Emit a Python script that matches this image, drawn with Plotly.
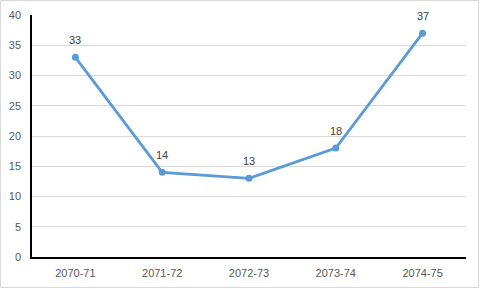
import plotly.graph_objects as go

categories = ["2070-71", "2071-72", "2072-73", "2073-74", "2074-75"]
values = [33, 14, 13, 18, 37]
y_ticks = [0, 5, 10, 15, 20, 25, 30, 35, 40]

W, H = 480, 289
ml, mr, mt, mb = 32, 14, 15, 32
pw, ph = W - ml - mr, H - mt - mb

fig = go.Figure()
fig.add_trace(go.Scatter(
    x=categories, y=values, mode="lines+markers",
    line=dict(color="#5B9BD5", width=2.75),
    marker=dict(color="#5B9BD5", size=7),
    cliponaxis=False, hoverinfo="skip",
))

annotations = [
    dict(x=c, y=v, text=str(v), showarrow=False, yshift=17, xref="x", yref="y",
         font=dict(family="Liberation Sans, Arial", size=11, color="#404040"))
    for c, v in zip(categories, values)
]

fig.update_layout(
    width=W, height=H,
    margin=dict(l=ml, r=mr, t=mt, b=mb, autoexpand=False),
    paper_bgcolor="white", plot_bgcolor="white",
    showlegend=False,
    font=dict(family="Liberation Sans, Arial", size=11, color="#595959"),
    annotations=annotations,
    xaxis=dict(
        type="category", range=[-0.5, 4.5], automargin=False,
        showline=True, linecolor="black", linewidth=1.5,
        showgrid=False, ticks="", tickfont=dict(size=11, color="#595959"),
        ticklabelstandoff=5, fixedrange=True,
    ),
    yaxis=dict(
        range=[0, 40], tickvals=y_ticks, automargin=False,
        showline=True, linecolor="black", linewidth=1.5,
        showgrid=True, gridcolor="#D9D9D9", gridwidth=1,
        zeroline=False, ticks="", tickfont=dict(size=11, color="#595959"),
        ticklabelstandoff=7, fixedrange=True,
    ),
    shapes=[dict(
        type="rect", xref="paper", yref="paper",
        x0=(-ml + 0.5) / pw, x1=(pw + mr - 1.5) / pw,
        y0=(-mb + 1.5) / ph, y1=(ph + mt - 0.5) / ph,
        line=dict(color="#D9D9D9", width=1), layer="below",
    )],
)

fig.write_html("out.html")
